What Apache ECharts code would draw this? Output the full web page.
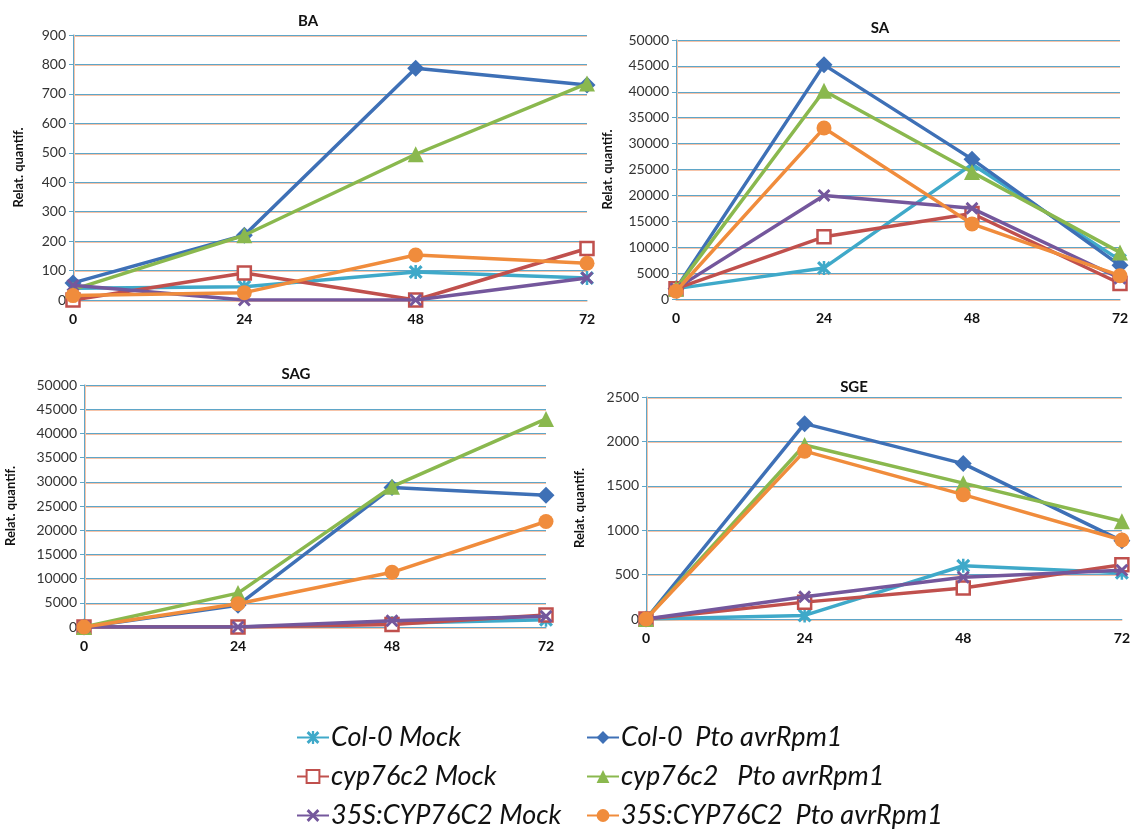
<!DOCTYPE html>
<html><head><meta charset="utf-8">
<script src="https://cdn.jsdelivr.net/npm/echarts@6/dist/echarts.min.js"></script>
<style>html,body{margin:0;padding:0;background:#fff}#c{width:1133px;height:832px}</style>
</head><body><div id="c"></div>
<script>
// ---- data ----
const hours = ['0', '24', '48', '72'];
const seriesNames = ['Col-0 Mock', 'Col-0  Pto avrRpm1', 'cyp76c2 Mock', 'cyp76c2   Pto avrRpm1', '35S:CYP76C2 Mock', '35S:CYP76C2  Pto avrRpm1'];
const panelTitles = ['BA', 'SA', 'SAG', 'SGE'];
// values per panel, in the order of seriesNames
const BA  = [[40, 45, 95, 75], [58, 220, 787, 730], [0, 92, 0, 175], [35, 220, 495, 735], [50, 0, 0, 75], [15, 25, 153, 125]];
const SA  = [[2000, 6000, 26000, 7500], [2000, 45200, 27000, 6500], [2000, 12000, 16500, 3000], [2000, 40200, 24500, 9000], [2000, 20000, 17500, 4000], [1500, 33000, 14500, 4500]];
const SAG = [[0, 0, 800, 1500], [0, 4500, 28800, 27200], [0, 0, 500, 2500], [0, 7000, 29000, 43000], [0, 0, 1300, 2200], [0, 4800, 11300, 21800]];
const SGE = [[0, 40, 600, 520], [0, 2200, 1750, 880], [0, 190, 350, 610], [0, 1960, 1530, 1100], [0, 250, 470, 550], [0, 1890, 1400, 890]];
const yMax = [900, 50000, 50000, 2500];
const yStep = [100, 5000, 5000, 500];

// ---- styles ----
const colors = ['#3fa9c9', '#3e70b6', '#c0504d', '#8ab84e', '#74579c', '#f08c3c'];
const XP = 'M0,1.6L1.6,0L5,3.4L8.4,0L10,1.6L6.6,5L10,8.4L8.4,10L5,6.6L1.6,10L0,8.4L3.4,5Z';
const symbols = ['path://' + XP + 'M4.1,0L5.9,0L5.9,10L4.1,10Z', 'diamond', 'rect', 'triangle', 'path://' + XP, 'circle'];
const symSizes = [14, 17, 13, 16, 13, 15];
const grids = [
  {left: 73, top: 35, width: 514, height: 265},
  {left: 676, top: 40, width: 444, height: 259},
  {left: 84, top: 385, width: 462, height: 242},
  {left: 646, top: 397, width: 478, height: 222}
];
const nameGaps = [48, 62, 67, 60];
const titlePos = [[303, 9], [875, 16], [291, 362], [849, 375]];
const FONT = 'Lato, "Open Sans", sans-serif';
const GRIDC = '#5fa6c8';
const SHADOW = '#f6c3a8';
const panels = [BA, SA, SAG, SGE];

const option = {
  backgroundColor: '#fff',
  animation: false,
  title: panelTitles.map((t, i) => ({
    text: t, left: titlePos[i][0], top: titlePos[i][1], textAlign: 'center',
    textStyle: {fontFamily: FONT, fontWeight: 'bold', fontSize: 15, color: '#111'}
  })),
  grid: grids.map(g => Object.assign({containLabel: false}, g)),
  xAxis: grids.map((g, i) => ({
    type: 'category', gridIndex: i, data: hours, boundaryGap: false,
    axisLine: {show: true, lineStyle: {color: GRIDC, width: 1, shadowColor: SHADOW, shadowOffsetY: 1, shadowBlur: 0.5}},
    axisTick: {show: false},
    axisLabel: {fontFamily: FONT, fontWeight: 'bold', fontSize: 14, color: '#111', margin: 12}
  })),
  yAxis: grids.map((g, i) => ({
    type: 'value', gridIndex: i, min: 0, max: yMax[i], interval: yStep[i],
    name: 'Relat. quantif.', nameLocation: 'middle', nameRotate: 90, nameGap: nameGaps[i],
    nameTextStyle: {fontFamily: FONT, fontWeight: 'bold', fontSize: 13, color: '#111'},
    axisLine: {show: true, lineStyle: {color: GRIDC, width: 1, shadowColor: SHADOW, shadowOffsetX: 1, shadowBlur: 0.5}},
    axisTick: {show: true, length: 4, lineStyle: {color: GRIDC}},
    axisLabel: {fontFamily: FONT, fontSize: 14, color: '#333', margin: 7, formatter: v => String(v)},
    splitLine: {show: true, lineStyle: {color: GRIDC, width: 1, shadowColor: SHADOW, shadowOffsetY: 1, shadowBlur: 0.5}}
  })),
  legend: [
    {left: 296, data: [seriesNames[0], seriesNames[2], seriesNames[4]]},
    {left: 586, data: [seriesNames[1], seriesNames[3], seriesNames[5]]}
  ].map(l => Object.assign(l, {
    orient: 'vertical', top: 724, height: 108, padding: 0,
    itemWidth: 32, itemHeight: 16, itemGap: 12, selectedMode: false,
    textStyle: {fontFamily: FONT, fontStyle: 'italic', fontSize: 27, lineHeight: 27, color: '#111', padding: [0, 0, 0, -3]}
  })),
  series: []
};

panels.forEach((vals, p) => {
  vals.forEach((v, s) => {
    const isSq = s === 2;
    option.series.push({
      type: 'line', name: seriesNames[s], xAxisIndex: p, yAxisIndex: p, data: v,
      symbol: symbols[s], symbolSize: symSizes[s], showAllSymbol: true,
      lineStyle: {color: colors[s], width: 3.5},
      itemStyle: isSq ? {color: '#fff', borderColor: colors[s], borderWidth: 2.5} : {color: colors[s]},
      emphasis: {disabled: true}, z: 2 + s
    });
  });
});

const chart = echarts.init(document.getElementById('c'), null, {renderer: 'canvas'});
chart.setOption(option);
</script></body></html>
